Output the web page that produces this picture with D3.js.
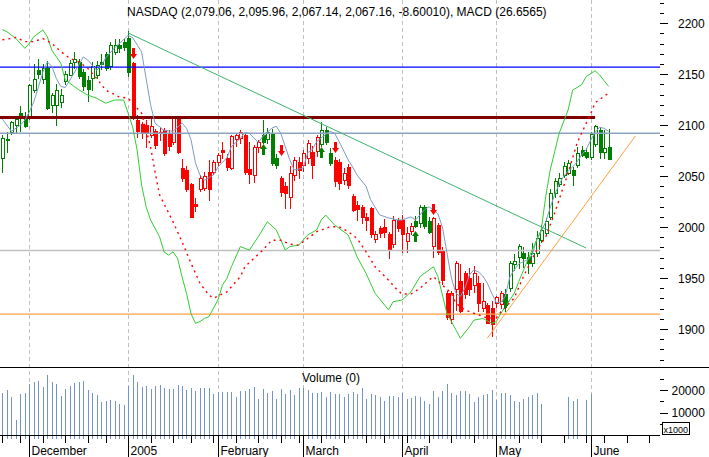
<!DOCTYPE html>
<html>
<head>
<meta charset="utf-8">
<script src="https://cdn.jsdelivr.net/npm/d3@7"></script>
<style>
  body { margin: 0; background: #fff; }
  text { font-family: "Liberation Sans", Arial, sans-serif; }
</style>
</head>
<body>
<svg id="chart" width="709" height="457"></svg>
<script>
// ---- data ----
var firstDay = "2004-11-22";
var holidays = ["2004-11-25", "2004-12-24", "2005-01-17", "2005-02-21", "2005-03-25", "2005-05-30"];

var opens = [2068,2085,2093,2100,2112,2106,2107,2135,2154,2145,
  2156,2120,2120,2123,2143,2149,2162,2162,2152,2144,
  2146,2149,2162,2170,2158,2172,2179,2182,2186,2161,
  2105,2101,2100,2090,2094,2093,2095,2092,2084,2108,
  2058,2056,2042,2023,2037,2038,2054,2054,2064,2076,
  2068,2058,2086,2087,2090,2057,2051,2079,2090,2086,
  2091,2068,2048,2040,2030,2051,2064,2061,2068,2074,
  2075,2082,2095,2073,2066,2064,2046,2059,2031,2022,
  2020,2010,2019,1988,1999,2000,1993,1983,2007,2007,
  1986,1996,2006,2004,2020,2006,1981,2002,1978,1935,
  1910,1939,1947,1955,1950,1943,1945,1921,1924,1921,
  1926,1925,1934,1940,1964,1971,1975,1971,1965,1975,
  1987,1994,2010,2033,2042,2051,2053,2056,2061,2076,
  2074,2069,2082,2095,2074,2079.06];
var highs = [2090,2093,2104,2109,2119,2113,2140,2160,2165,2160,
  2163,2132,2140,2136,2153,2164,2172,2165,2155,2148,
  2162,2163,2170,2172,2182,2185,2185,2185,2192,2162,
  2110,2103,2105,2106,2096,2098,2097,2095,2109,2109,
  2067,2060,2043,2029,2051,2054,2066,2066,2073,2084,
  2072,2090,2091,2095,2091,2084,2081,2085,2105,2097,
  2096,2072,2050,2044,2060,2069,2069,2076,2085,2080,
  2090,2103,2098,2078,2069,2067,2058,2062,2032,2026,
  2022,2014,2020,1996,2001,2008,1995,2011,2009,2012,
  2000,2004,2011,2022,2022,2010,2010,2004,1980,1937,
  1937,1967,1964,1957,1960,1962,1952,1945,1926,1927,
  1932,1937,1939,1967,1974,1983,1980,1976,1984,1996,
  2002,2009,2037,2048,2053,2064,2066,2059,2079,2080,
  2078,2093,2100,2098,2095,2095.96];
var lows = [2054,2074,2091,2093,2094,2098,2106,2133,2146,2141,
  2116,2113,2100,2118,2140,2149,2156,2146,2135,2124,
  2135,2146,2155,2154,2155,2170,2172,2174,2148,2106,
  2088,2087,2079,2088,2078,2085,2071,2076,2082,2073,
  2045,2035,2010,2016,2035,2036,2027,2052,2060,2068,
  2056,2057,2080,2083,2052,2043,2044,2074,2083,2083,
  2061,2058,2031,2019,2019,2046,2048,2055,2063,2048,
  2070,2080,2082,2061,2040,2037,2042,2038,2016,2007,
  2004,1997,1990,1985,1990,1990,1970,1980,1996,1976,
  1976,1993,2000,2000,1999,1994,1971,1974,1944,1910,
  1906,1919,1917,1930,1933,1936,1918,1918,1906,1893,
  1922,1921,1918,1937,1958,1960,1961,1955,1962,1972,
  1985,1993,2008,2030,2040,2049,2052,2041,2059,2070,
  2068,2067,2080,2068,2068,2067.14];
var closes = [2087,2086,2103,2106,2108,2099,2139,2145,2150,2156,
  2117,2130,2135,2130,2150,2161,2165,2148,2138,2136,
  2158,2159,2160,2156,2179,2179,2176,2177,2152,2110,
  2094,2093,2092,2099,2081,2092,2073,2080,2108,2074,
  2048,2037,2010,2021,2048,2050,2037,2064,2071,2074,
  2059,2089,2090,2093,2054,2052,2079,2084,2084,2093,
  2063,2061,2034,2033,2053,2066,2056,2073,2083,2061,
  2088,2095,2084,2063,2045,2043,2053,2041,2017,2018,
  2010,2007,1993,1993,1994,1995,1978,2007,1999,1993,
  1994,2001,2001,2020,2001,1995,2009,1976,1948,1912,
  1935,1965,1918,1934,1939,1955,1926,1927,1906,1905,
  1931,1935,1924,1965,1967,1981,1970,1965,1975,1989,
  1997,2006,2033,2045,2048,2060,2063,2051,2073,2071,
  2069,2091,2099,2074,2078,2067.16];

var volumes = [18800,20000,16700,6500,18400,18800,22500,23500,23900,21300,
  26500,23600,22500,17400,20300,21700,22900,23500,23900,19900,
  18800,17700,14500,14900,15500,14900,14000,13500,21700,26500,
  23600,21300,22000,20300,21700,22200,20700,20300,20600,22200,
  21700,19900,21000,19600,21000,21000,21000,18400,19300,19100,
  19100,19100,17000,19600,19600,20300,21400,16200,20600,18800,
  19600,16200,20600,18400,20000,17700,21000,21000,20000,18800,
  18600,19100,16700,19100,18400,18100,17100,18400,19100,18100,
  21000,16200,18400,17700,17100,14900,17400,17400,17000,18600,
  16200,16500,17400,16700,15200,14000,19600,17100,19600,22500,
  18800,17700,19600,19600,18100,14500,16700,17700,18100,19900,
  15500,18600,18600,17700,15200,14500,15900,17100,17800,18600,
  14000,null,null,null,null,null,17000,14900,15900,null,
  15600,18100,null,null,null,null];

// [trading day, value]
var avgLine = [[0,2106],[2,2094],[4,2100],[5,2105],[6,2113],[7,2123],[8,2137],[9,2152],[10,2162],[11,2158],
  [12,2146],[13,2138],[14,2137],[15,2144],[17,2159],[18,2167],[19,2164],[20,2159],[21,2154],[22,2158],
  [23,2166],[25,2176],[27,2184],[28,2188],[29,2186],[31,2172],[32,2146],[33,2120],[34,2102],[36,2095],
  [38,2094],[40,2102],[41,2097],[42,2086],[43,2063],[44,2051],[45,2046],[47,2051],[48,2059],[50,2068],
  [51,2079],[53,2087],[54,2093],[55,2092],[57,2083],[58,2089],[60,2097],[61,2099],[62,2092],[63,2079],
  [64,2066],[65,2056],[67,2058],[68,2073],[69,2076],[70,2084],[72,2091],[73,2094],[74,2092],[75,2084],
  [77,2066],[78,2059],[79,2051],[81,2040],[82,2027],[84,2012],[86,2009],[88,2007],[89,2007],[91,2010],
  [92,2007],[94,2017],[95,2020],[97,2013],[98,2000],[99,1975],[100,1950],[101,1935],[102,1932],[103,1940],
  [104,1953],[105,1958],[106,1956],[107,1952],[108,1945],[109,1935],[110,1926],[111,1926],[112,1932],[113,1951],
  [114,1958],[115,1964],[116,1966],[117,1968],[118,1973],[119,1988],[120,1996],[121,2005],[122,2019],[123,2032],
  [124,2042],[125,2050],[126,2055],[127,2059],[128,2064],[129,2071],[130,2076],[131,2085],[132,2093],[133,2098],
  [134,2097],[135,2094]];

var macd = [[0,42.7],[1,42.1],[3,40.2],[5,37.4],[6,38.8],[7,40.7],[9,42.6],[10,40.7],[11,36.9],[13,33.2],
  [14,28.5],[17,25.7],[19,24.2],[21,23.3],[23,21.9],[25,22.8],[27,22.8],[28,19.1],[29,15.2],[30,8.7],
  [31,-1.2],[32,-7.3],[33,-11.1],[35,-15.8],[36,-20.1],[37,-21],[38,-20.1],[39,-21.9],[40,-27.1],[41,-31.8],
  [42,-37.5],[43,-40.3],[44,-39.8],[45,-38.9],[46,-38.4],[48,-33.7],[49,-29.5],[50,-27.6],[51,-24.3],[53,-18.6],
  [55,-19.6],[57,-15.8],[59,-11.6],[61,-13.9],[63,-19.6],[64,-18.6],[66,-18.2],[68,-15.3],[70,-13.9],[71,-11.1],
  [72,-9.7],[74,-12.5],[77,-15.3],[79,-21.5],[81,-26.2],[83,-31.8],[86,-36.5],[87,-34.2],[89,-33.7],[91,-31.4],
  [93,-27.1],[96,-24.3],[97,-27.1],[99,-37.5],[100,-39.8],[102,-44.5],[104,-41.3],[105,-39.4],[107,-38.9],[109,-40.3],
  [110,-39.8],[111,-37.5],[114,-31.8],[115,-28.5],[117,-22.4],[120,-13.9],[121,-4.5],[122,3.0],[124,13.4],[126,20.0],
  [127,25.6],[129,27.1],[130,29.4],[132,31.1],[133,29.9],[135,26.66]];

var macdSignal = [[0,39.8],[2,40.2],[3,40.5],[5,39.3],[7,39.3],[9,40.2],[11,38.8],[13,36.5],[15,34.6],[17,33.6],
  [19,31.8],[21,28.9],[23,25.6],[26,23.7],[28,23.3],[31,19.1],[33,9.6],[34,2.5],[35,-4.0],[38,-11.6],
  [40,-17.2],[42,-23.3],[44,-29.0],[46,-32.3],[47,-33.2],[50,-31.4],[53,-27.1],[54,-24.3],[58,-19.6],[60,-16.8],
  [62,-16.8],[64,-17.9],[66,-18.2],[68,-16.3],[70,-14.4],[73,-13.0],[75,-13.0],[77,-14.4],[79,-16.3],[81,-20.1],
  [83,-24.3],[86,-28.1],[88,-30.9],[89,-32.0],[91,-32.0],[93,-30.4],[95,-28.1],[96,-27.1],[98,-29.5],[100,-31.8],
  [101,-34.6],[103,-36.5],[106,-37.9],[108,-38.8],[110,-38.8],[111,-37.1],[114,-33.1],[116,-27.2],[119,-19.6],[121,-15.9],
  [123,-9.1],[126,2.2],[128,10.7],[131,18.9],[132,22.0],[135,24.8]];

// MACD cross arrows: day, direction (+1 buy / -1 sell), price at arrow tip
var crossDays = [29, 58, 62, 71, 74, 92, 96, 112];
var crossDirs = [-1, 1, -1, 1, -1, 1, -1, 1];
var crossPrices = [2165, 2082, 2070, 2079, 2073, 1996, 2012, 1931];

var levelPrices = [2157, 2107.5, 2092, 1977, 1914.5];
var resistanceEndDay = 132;
var trendDown = [[28, 2190.5], [130, 1979.5]];
var trendUp = [[108, 1891], [141, 2089.5]];

var priceLabels = [1900, 1950, 2000, 2050, 2100, 2150, 2200];
var volumeLabels = [10000, 20000];
var title = "NASDAQ (2,079.06, 2,095.96, 2,067.14, 2,067.16, -8.60010), MACD (26.6565)";

// ---- scales ----
var svg = d3.select("#chart");
var right = 660;
var x = d3.scaleLinear().domain([0, 146]).range([2.4, 2.4 + 146 * 4.49]);
var y = d3.scaleLinear().domain([1900, 2200]).range([329, 23.3]);
var yMacd = d3.scaleLinear().domain([-45, 44]).range([340, 25]);
var yVol = d3.scaleLinear().domain([0, 20000]).range([435, 390]);

var parse = d3.timeParse("%Y-%m-%d"), fmt = d3.timeFormat("%Y-%m-%d");
var days = d3.timeDay.range(parse(firstDay), parse("2005-07-01"))
  .filter(function(d) { return d.getDay() % 6 !== 0 && holidays.indexOf(fmt(d)) < 0; })
  .slice(0, 147);

var monthStarts = [], weekStarts = [];
days.forEach(function(d, i) {
  if (i > 0 && d.getMonth() !== days[i - 1].getMonth()) monthStarts.push(i);
  if (i === 0 || d.getDay() < days[i - 1].getDay()) weekStarts.push(i);
});
function px(i) { return Math.round(x(i)) + 0.5; }

svg.append("rect").attr("width", 709).attr("height", 457).attr("fill", "#fff");
svg.append("clipPath").attr("id", "clip").append("rect")
  .attr("x", 0).attr("y", 0).attr("width", right).attr("height", 367);

// vertical month grid (both panels)
svg.append("g").selectAll("line").data(monthStarts).enter().append("line")
  .attr("x1", px).attr("x2", px).attr("y1", 0).attr("y2", 435)
  .attr("stroke", "#c0c0c0").attr("stroke-dasharray", "4,3");

// ---- candles ----
var candles = opens.map(function(o, i) {
  return { i: i, o: o, h: highs[i], l: lows[i], c: closes[i] };
});
var bull = true;
candles.forEach(function(d) {
  var k = crossDays.indexOf(d.i);
  if (k >= 0) bull = crossDirs[k] > 0;
  d.col = bull ? "#008000" : "#ff0000";
});

var cg = svg.append("g").attr("clip-path", "url(#clip)").attr("shape-rendering", "crispEdges");
cg.selectAll(".wick").data(candles).enter().append("line")
  .attr("class", "wick")
  .attr("x1", function(d) { return px(d.i); })
  .attr("x2", function(d) { return px(d.i); })
  .attr("y1", function(d) { return Math.round(y(d.h)); })
  .attr("y2", function(d) { return Math.round(y(d.l)) + 1; })
  .attr("stroke", function(d) { return d.col; });
cg.selectAll(".body").data(candles).enter().append("rect")
  .attr("class", "body")
  .each(function(d) {
    var top = Math.round(y(Math.max(d.o, d.c))), bot = Math.round(y(Math.min(d.o, d.c)));
    var cx = Math.round(x(d.i));
    var r = d3.select(this);
    if (d.c > d.o) {
      r.attr("x", cx - 0.5).attr("y", top + 0.5).attr("width", 3).attr("height", Math.max(1, bot - top))
        .attr("fill", "#fff").attr("stroke", d.col);
    } else {
      r.attr("x", cx - 1).attr("y", top).attr("width", 4).attr("height", Math.max(1, bot - top + 1))
        .attr("fill", d.col);
    }
  });

// ---- horizontal levels ----
var levelStyle = [
  { col: "#0000ff", w: 1.3, end: right },
  { col: "#800000", w: 3, end: x(resistanceEndDay) },
  { col: "#8ca4c4", w: 1.5, end: right },
  { col: "#c0c0c0", w: 1.5, end: right },
  { col: "#ffa040", w: 1.3, end: right }
];
svg.append("g").selectAll("line").data(levelPrices).enter().append("line")
  .attr("x1", 0).attr("x2", function(d, i) { return levelStyle[i].end; })
  .attr("y1", function(d) { return y(d); })
  .attr("y2", function(d) { return y(d); })
  .attr("stroke", function(d, i) { return levelStyle[i].col; })
  .attr("stroke-width", function(d, i) { return levelStyle[i].w; });

var priceLine = d3.line().x(function(d) { return x(d[0]); }).y(function(d) { return y(d[1]); });
var macdLine = d3.line().x(function(d) { return x(d[0]); }).y(function(d) { return yMacd(d[1]); });
var lg = svg.append("g").attr("clip-path", "url(#clip)").attr("fill", "none");
lg.append("path").attr("d", priceLine(trendDown)).attr("stroke", "#3cb371");
lg.append("path").attr("d", priceLine(trendUp)).attr("stroke", "#ffa040");
lg.append("path").attr("d", priceLine(avgLine)).attr("stroke", "#7c9cc4");
lg.append("path").attr("d", macdLine(macd)).attr("stroke", "#33cc33");
lg.append("path").attr("d", macdLine(macdSignal)).attr("stroke", "#ff0000")
  .attr("stroke-width", 1.4).attr("stroke-dasharray", "2,4");

// cross arrows
svg.append("g").selectAll("path").data(crossDays).enter().append("path")
  .attr("d", function(d, k) {
    var cx = Math.round(x(d)), t = Math.round(y(crossPrices[k])), s = crossDirs[k];
    return "M" + (cx + 0.5) + "," + t + "L" + (cx + 4) + "," + (t + 5 * s) + "L" + (cx + 2) + "," + (t + 5 * s) +
      "L" + (cx + 2) + "," + (t + 11 * s) + "L" + (cx - 1) + "," + (t + 11 * s) + "L" + (cx - 1) + "," + (t + 5 * s) +
      "L" + (cx - 3) + "," + (t + 5 * s) + "Z";
  })
  .attr("fill", function(d, k) { return crossDirs[k] > 0 ? "#008000" : "#ff0000"; });

// title
svg.append("text").attr("x", 127).attr("y", 15.5).attr("font-size", 12).text(title);

// price axis (right)
var ax = svg.append("g").attr("shape-rendering", "crispEdges");
ax.selectAll(".pt").data(d3.range(1870, 2230, 10)).enter().append("line")
  .attr("x1", right).attr("x2", function(d) { return d % 50 === 0 ? right + 8 : right + 4; })
  .attr("y1", function(d) { return Math.round(y(d)) + 0.5; })
  .attr("y2", function(d) { return Math.round(y(d)) + 0.5; })
  .attr("stroke", "#000");
svg.selectAll(".pl").data(priceLabels).enter().append("text")
  .attr("x", 678).attr("y", function(d) { return y(d) + 4.5; })
  .attr("font-size", 12).text(function(d) { return d; });

// ---- volume panel ----
var vg = svg.append("g").attr("shape-rendering", "crispEdges");
vg.selectAll("rect").data(volumes.map(function(v, i) { return { i: i, v: v }; })
  .filter(function(d) { return d.v !== null; }))
  .enter().append("rect")
  .attr("x", function(d) { return Math.round(x(d.i)); })
  .attr("y", function(d) { return Math.round(yVol(d.v)); })
  .attr("width", 1)
  .attr("height", function(d) { return 439 - Math.round(yVol(d.v)); })
  .attr("fill", "#7393cb");

vg.append("line").attr("x1", 0).attr("x2", 709).attr("y1", 367.5).attr("y2", 367.5).attr("stroke", "#000");
vg.append("line").attr("x1", 0).attr("x2", right).attr("y1", 435.5).attr("y2", 435.5).attr("stroke", "#000");
svg.append("text").attr("x", 302).attr("y", 382).attr("font-size", 12).text("Volume (0)");

vg.selectAll(".vt").data([5000, 10000, 15000, 20000, 25000]).enter().append("line")
  .attr("x1", right).attr("x2", function(d) { return d % 10000 === 0 ? right + 8 : right + 4; })
  .attr("y1", function(d) { return Math.round(yVol(d)) + 0.5; })
  .attr("y2", function(d) { return Math.round(yVol(d)) + 0.5; })
  .attr("stroke", "#000");
svg.selectAll(".vl").data(volumeLabels).enter().append("text")
  .attr("x", 671.5).attr("y", function(d) { return yVol(d) + 4.5; })
  .attr("font-size", 12).text(function(d) { return d; });
vg.append("rect").attr("x", 662.5).attr("y", 422.5).attr("width", 27).attr("height", 12)
  .attr("fill", "#fff").attr("stroke", "#000");
svg.append("text").attr("x", 663.5).attr("y", 432.5).attr("font-size", 9).text("x1000");

// ---- time axis ----
var tg = svg.append("g").attr("shape-rendering", "crispEdges");
tg.selectAll(".wt").data(weekStarts).enter().append("line")
  .attr("x1", px).attr("x2", px).attr("y1", 435).attr("y2", 443).attr("stroke", "#000");
tg.selectAll(".mt").data(monthStarts).enter().append("line")
  .attr("x1", px).attr("x2", px).attr("y1", 435).attr("y2", 457).attr("stroke", "#000");
svg.selectAll(".ml").data(monthStarts).enter().append("text")
  .attr("x", function(i) { return px(i) + 2; }).attr("y", 455)
  .attr("font-size", 12)
  .text(function(i) { return days[i].getMonth() === 0 ? d3.timeFormat("%Y")(days[i]) : d3.timeFormat("%B")(days[i]); });
</script>
</body>
</html>
